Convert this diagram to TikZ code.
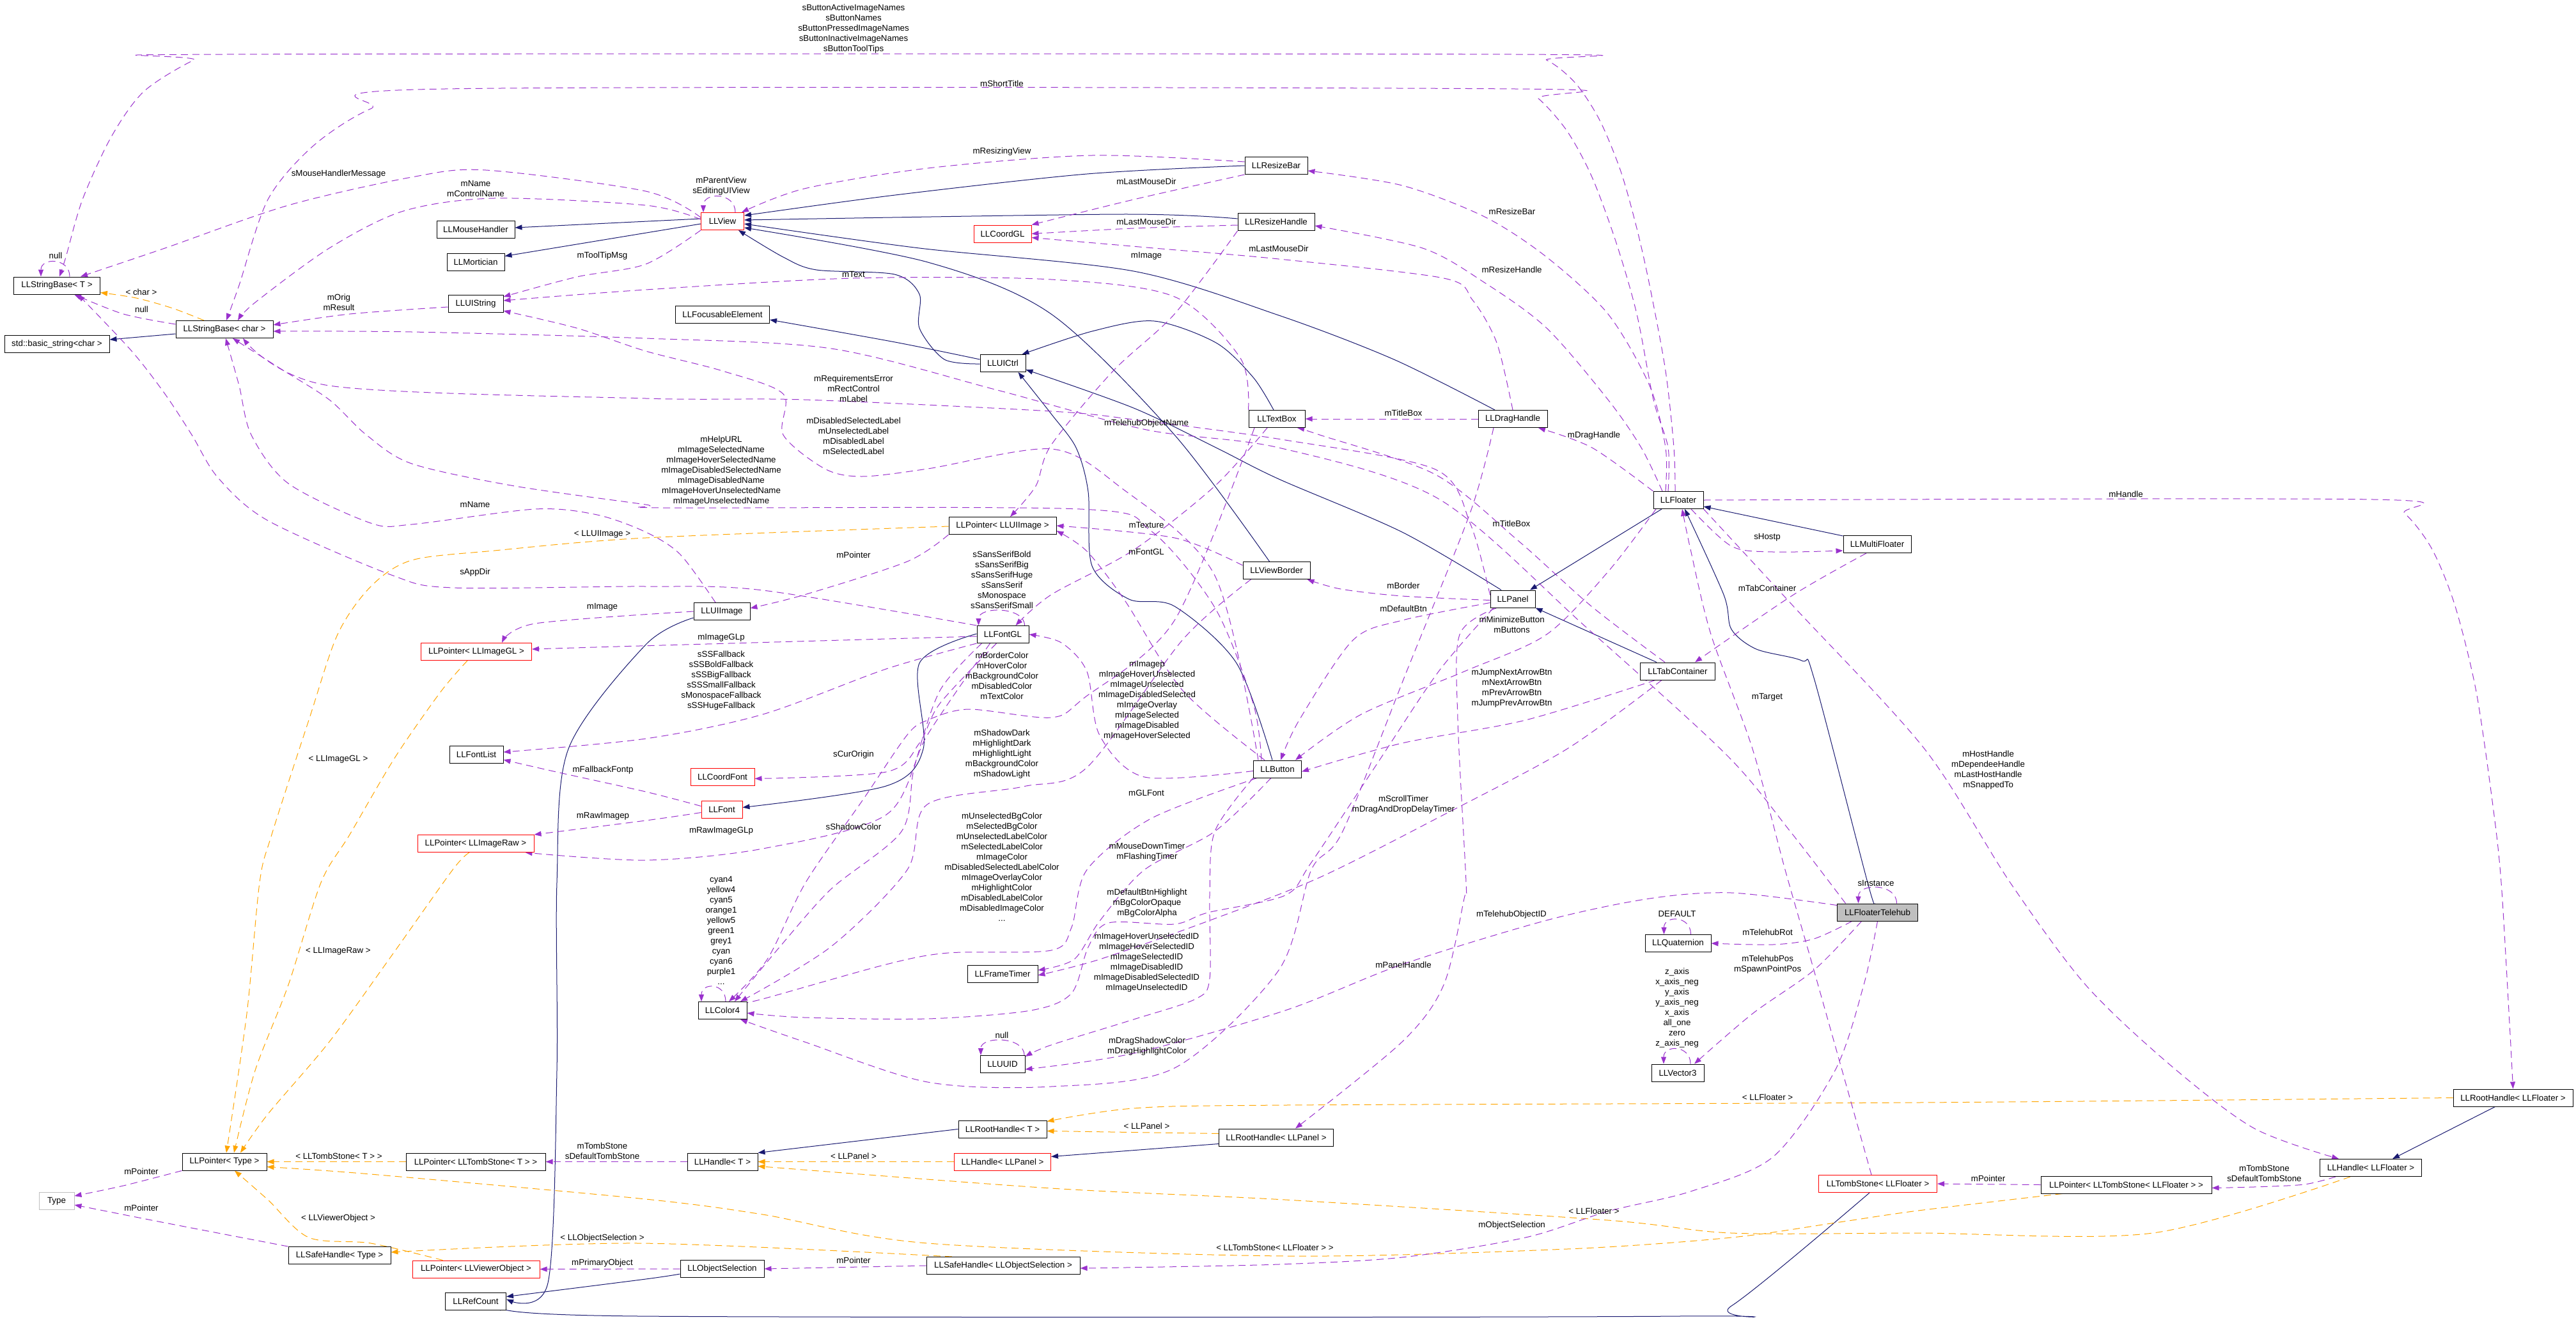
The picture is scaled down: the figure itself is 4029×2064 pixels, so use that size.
\documentclass[tikz,border=0pt]{standalone}
\usepackage{fontspec}
\setmainfont{Liberation Sans}
\usetikzlibrary{arrows.meta, backgrounds}
\definecolor{dxpurple}{RGB}{154,50,205}
\definecolor{dxorange}{RGB}{255,165,0}
\definecolor{dxnavy}{RGB}{25,25,112}
\definecolor{dxgray}{RGB}{191,191,191}

\begin{document}
\begin{tikzpicture}[x=1pt, y=-1pt, font=\fontsize{13.33}{16}\selectfont,
  cls/.style={draw=black, line width=1pt, fill=white, minimum height=27pt, inner sep=0pt},
  clsred/.style={cls, draw=red},
  clsmain/.style={cls, fill=dxgray},
  usage/.style={draw=dxpurple, line width=1pt, dash pattern=on 11pt off 7pt, -{Triangle[length=11pt,width=8pt]}},
  tmpl/.style={usage, draw=dxorange},
  inh/.style={draw=dxnavy, line width=1pt, -{Triangle[length=11pt,width=8pt]}},
  lbl/.style={align=center, inner sep=0pt}]

\useasboundingbox (0,0) rectangle (4029,2064);

% Classes
\node[cls, minimum width=135pt] (sbT) at (89,446.5) {LLStringBase< T >};
\node[cls, minimum width=164pt] (stdstr) at (89,538) {std::basic\_string<char >};
\node[cls, minimum width=152pt] (sbchar) at (351,515) {LLStringBase< char >};
\node[cls, minimum width=122pt] (mouse) at (744,359) {LLMouseHandler};
\node[cls, minimum width=90pt] (mort) at (744,409.5) {LLMortician};
\node[cls, minimum width=86pt] (uistr) at (744,475) {LLUIString};
\node[clsred, minimum width=67pt] (view) at (1130,346) {LLView};
\node[cls, minimum width=98pt] (resbar) at (1996,259) {LLResizeBar};
\node[cls, minimum width=120pt] (reshandle) at (1996,347) {LLResizeHandle};
\node[clsred, minimum width=90pt] (coordgl) at (1568,365.5) {LLCoordGL};
\node[cls, minimum width=147pt] (focus) at (1130,492) {LLFocusableElement};
\node[cls, minimum width=71pt] (uictrl) at (1568.5,568) {LLUICtrl};
\node[cls, minimum width=88pt] (textbox) at (1997,655) {LLTextBox};
\node[cls, minimum width=108pt] (draghandle) at (2366,655) {LLDragHandle};
\node[clsred, minimum width=173pt] (ptrimagegl) at (745,1019) {LLPointer< LLImageGL >};
\node[cls, minimum width=84pt] (fontlist) at (745,1180) {LLFontList};
\node[clsred, minimum width=182pt] (ptrimageraw) at (744,1319) {LLPointer< LLImageRaw >};
\node[cls, minimum width=168pt] (ptruiimage) at (1568,822) {LLPointer< LLUIImage >};
\node[cls, minimum width=88pt] (uiimage) at (1129,956) {LLUIImage};
\node[cls, minimum width=81pt] (fontgl) at (1568.5,992) {LLFontGL};
\node[cls, minimum width=105pt] (viewborder) at (1996.5,892) {LLViewBorder};
\node[clsred, minimum width=100pt] (coordfont) at (1130,1214.5) {LLCoordFont};
\node[clsred, minimum width=64pt] (font) at (1129,1265.5) {LLFont};
\node[cls, minimum width=75pt] (button) at (1998,1202.5) {LLButton};
\node[cls, minimum width=78pt] (floater) at (2625,782) {LLFloater};
\node[cls, minimum width=106pt] (multifloater) at (2936,851) {LLMultiFloater};
\node[cls, minimum width=70pt] (panel) at (2366,936.5) {LLPanel};
\node[cls, minimum width=117pt] (tabcont) at (2624,1049.5) {LLTabContainer};
\node[cls, minimum width=132pt] (ptrtype) at (351,1816.5) {LLPointer< Type >};
\node[cls, minimum width=218pt] (ptrtombT) at (744,1816.5) {LLPointer< LLTombStone< T > >};
\node[cls, draw=dxgray, minimum width=55pt] (type) at (88.5,1878) {Type};
\node[cls, minimum width=160pt] (safetype) at (531,1963) {LLSafeHandle< Type >};
\node[clsred, minimum width=199pt] (ptrviewerobj) at (744.5,1984.5) {LLPointer< LLViewerObject >};
\node[cls, minimum width=95pt] (refcount) at (744,2034.5) {LLRefCount};
\node[cls, minimum width=76pt] (color4) at (1130,1580) {LLColor4};
\node[cls, minimum width=110pt] (frametimer) at (1568,1523) {LLFrameTimer};
\node[cls, minimum width=70pt] (uuid) at (1568,1664) {LLUUID};
\node[cls, minimum width=138pt] (roothandleT) at (1568,1765.5) {LLRootHandle< T >};
\node[cls, minimum width=110pt] (handleT) at (1130,1816.5) {LLHandle< T >};
\node[clsred, minimum width=151pt] (handlepanel) at (1568,1816.5) {LLHandle< LLPanel >};
\node[cls, minimum width=179pt] (roothandlepanel) at (1996,1778.5) {LLRootHandle< LLPanel >};
\node[cls, minimum width=131pt] (objsel) at (1129.5,1984) {LLObjectSelection};
\node[cls, minimum width=240pt] (safeobjsel) at (1569,1979) {LLSafeHandle< LLObjectSelection >};
\node[clsmain, minimum width=126pt] (telehub) at (2936.5,1426.5) {LLFloaterTelehub};
\node[cls, minimum width=103pt] (quat) at (2624.5,1475) {LLQuaternion};
\node[cls, minimum width=82pt] (vec3) at (2624,1677.5) {LLVector3};
\node[clsred, minimum width=185pt] (tombfloater) at (2937,1851) {LLTombStone< LLFloater >};
\node[cls, minimum width=187pt] (roothandlefloater) at (3930.5,1716.5) {LLRootHandle< LLFloater >};
\node[cls, minimum width=159pt] (handlefloater) at (3708,1826) {LLHandle< LLFloater >};
\node[cls, minimum width=267pt] (ptrtombfloater) at (3325.5,1852.5) {LLPointer< LLTombStone< LLFloater > >};

\begin{scope}[on background layer]
% Inheritance
\draw[inh] ([yshift=4]view.west) -- ([yshift=3]mouse.east);
\draw[inh] ([yshift=-4]view.west) -- ([yshift=9]mort.east);
\draw[inh] ([yshift=-7]sbchar.west) -- ([yshift=7]stdstr.east);
\draw[inh] plot[smooth] coordinates {(resbar.west) (1700,272) (1400,305) ([yshift=9]view.east)};
\draw[inh] plot[smooth] coordinates {([yshift=5]reshandle.west) (1755,335) ([yshift=2]view.east)};
\draw[inh] plot[smooth] coordinates {([xshift=-28]draghandle.north) (2180,562) (2000,493) (1773,424) (1438,388) ([yshift=-4]view.east)};
\draw[inh] plot[smooth] coordinates {([xshift=-11]viewborder.north) (1837,680) (1644,491) (1451,410) ([yshift=-10]view.east)};
\draw[inh] plot[smooth] coordinates {([yshift=-1]uictrl.west) (1477,562) (1438,513) (1438,460) (1399,429) (1277,422) (1225,402) ([xshift=25]view.south)};
\draw[inh] plot[smooth] coordinates {([yshift=6]uictrl.west) (1400,535) ([yshift=-8]focus.east)};
\draw[inh] plot[smooth] coordinates {([xshift=-5]textbox.north) (1960,590) (1902,536) (1805,502) (1708,518) ([xshift=30]uictrl.north)};
\draw[inh] plot[smooth] coordinates {([xshift=-8]button.north) (1934,1037) (1837,948) (1766,937) (1708,885) (1702,769) (1683,700) (1644,647) ([xshift=24]uictrl.south)};
\draw[inh] plot[smooth] coordinates {([xshift=-18]panel.north) (2193,832) (2000,749) (1902,700) (1773,638) ([yshift=-10]uictrl.east)};
\draw[inh] ([xshift=-26]floater.south) -- ([xshift=27]panel.north);
\draw[inh] ([xshift=-33]tabcont.north) -- (panel.south east);
\draw[inh] ([yshift=13]multifloater.west) -- ([yshift=-10]floater.east);
\draw[inh] plot[smooth] coordinates {([xshift=-4]telehub.north) (2921,1380) (2837,1060) (2818,1033) (2747,1015) (2708,984) (2696,930) ([xshift=10]floater.south)};
\draw[inh] plot[smooth] coordinates {([yshift=1]fontgl.west) (1438,1037) (1444,1171) (1386,1229) ([yshift=3]font.east)};
\draw[inh] plot[smooth] coordinates {([yshift=-10]uiimage.west) (1010,1008) (889,1171) (871,1380) (871,1674) (857,2006) ([yshift=3]refcount.east)};
\draw[inh] plot[smooth] coordinates {([yshift=-8]objsel.west) (1010,2000) ([yshift=7]refcount.east)};
\draw[inh] plot[smooth] coordinates {([xshift=-13]tombfloater.south) (2708,2042) (2625,2058) (1000,2058) ([yshift=-8]refcount.east)};
\draw[inh] (roothandleT.west) -- (handleT.north east);
\draw[inh] ([yshift=-10]roothandlepanel.west) -- ([yshift=8]handlepanel.east);
\draw[inh] ([xshift=-28]roothandlefloater.south) -- ([xshift=34]handlefloater.north);

% Template instances
\draw[tmpl] plot[smooth] coordinates {([xshift=-32]sbchar.north) (270,482) (213,466) ([yshift=-11]sbT.east)};
\draw[tmpl] plot[smooth] coordinates {([yshift=-1]ptruiimage.west) (1010,841) (773,861) (644,876) (580,917) (528,992) (483,1126) (425,1305) (406,1380) (386,1585) ([xshift=3]ptrtype.north)};
\draw[tmpl] plot[smooth] coordinates {([xshift=-14]ptrimagegl.south) (689,1082) (618,1184) (547,1305) (502,1380) (451,1540) (399,1674) ([xshift=15]ptrtype.north)};
\draw[tmpl] plot[smooth] coordinates {([xshift=-10]ptrimageraw.south) (708,1360) (612,1495) (515,1629) (419,1742) ([xshift=25]ptrtype.north)};
\draw[tmpl] (ptrtombT.west) -- (ptrtype.east);
\draw[tmpl] plot[smooth] coordinates {([xshift=-100]ptrtombfloater.south) (3000,1893) (2870,1912) (2708,1935) (2451,1953) (2010,1964) (1451,1944) (1193,1899) (1010,1875) (580,1836) ([yshift=-8]ptrtype.east)};
\draw[tmpl] plot[smooth] coordinates {([xshift=-52]ptrviewerobj.north) (580,1944) (483,1935) (419,1876) ([xshift=16]ptrtype.south)};
\draw[tmpl] plot[smooth] coordinates {([xshift=-80]safeobjsel.north) (1000,1944) ([yshift=5]safetype.east)};
\draw[tmpl] ([yshift=6]roothandlepanel.west) -- ([yshift=-3]roothandleT.east);
\draw[tmpl] plot[smooth] coordinates {(roothandlefloater.west) (3000,1724) (2010,1728) (1773,1733) ([yshift=12]roothandleT.east)};
\draw[tmpl] (handlepanel.west) -- (handleT.east);
\draw[tmpl] plot[smooth] coordinates {([xshift=-32]handlefloater.south) (3367,1928) (3000,1928) (2708,1928) (2515,1908) (2010,1876) (1644,1858) ([yshift=-7]handleT.east)};

% Usage
\draw[usage] plot[smooth] coordinates {([xshift=-5]floater.north) (2618,700) (2605,580) (2580,446) (2560,357) (2535,268) (2502,188) (2464,130) (2419,94) (2367,85) (348,85) (303,94) (225,143) (174,214) (129,312) (103,402) ([xshift=4]sbT.north)};
\draw[usage] plot[smooth] coordinates {([yshift=6]view.west) (1010,299) (760,266) (644,277) (451,321) (258,388) ([xshift=37]sbT.north)};
\draw[usage] ([xshift=20]sbT.north) .. controls +(0,-30) and +(0,-30) .. ([xshift=-25]sbT.north);
\draw[usage] plot[smooth] coordinates {([yshift=8]sbchar.west) (193,491) ([xshift=27]sbT.south)};
\draw[usage] plot[smooth] coordinates {(fontgl.north west) (1193,923) (1010,917) (708,919) (612,899) (419,814) (341,747) (300,680) (258,616) (206,549) ([xshift=33]sbT.south)};
\draw[usage] plot[smooth] coordinates {([xshift=-16]floater.north) (2609,700) (2586,625) (2560,491) (2528,380) (2490,277) (2451,205) (2406,154) (2370,139) (696,139) (580,170) (490,228) (419,312) (374,446) ([xshift=3]sbchar.north)};
\draw[usage] plot[smooth] coordinates {([yshift=3]view.west) (1010,321) (773,310) (631,330) (515,388) (399,473) ([xshift=21]sbchar.north)};
\draw[usage] plot[smooth] coordinates {([yshift=-5]uistr.west) (547,491) ([yshift=7]sbchar.east)};
\draw[usage] plot[smooth] coordinates {([xshift=-50]telehub.north) (2800,1300) (2700,1180) (2480,980) (2250,780) (2000,700) (1793,672) (1560,610) (1300,545) (1010,529) (644,519) ([yshift=-3]sbchar.east)};
\draw[usage] plot[smooth] coordinates {([xshift=-10]uiimage.north) (1064,867) (1010,832) (934,805) (837,796) (644,820) (580,818) (451,756) (393,680) (374,603) ([xshift=2]sbchar.south)};
\draw[usage] plot[smooth] coordinates {([xshift=-25]button.north) (1960,1100) (1900,950) (1800,830) (1689,796) (1038,794) (1010,789) (805,760) (644,725) (573,680) (515,625) (438,576) ([xshift=13]sbchar.south)};
\draw[usage] plot[smooth] coordinates {([yshift=6]panel.west) (2300,820) (2245,734) (2010,688) (1773,656) (1644,643) (1258,625) (1010,623) (515,603) ([xshift=29]sbchar.south)};
\draw[usage] plot[smooth] coordinates {(view.south west) (1010,413) (902,433) ([yshift=11]uistr.east)};
\draw[usage] plot[smooth] coordinates {(textbox.north west) (1940,560) (1837,464) (1644,437) (1335,435) (1010,453) ([yshift=5]uistr.east)};
\draw[usage] plot[smooth] coordinates {([xshift=-30]button.north) (1900,900) (1750,760) (1644,702) (1451,733) (1348,745) (1290,733) (1225,680) (1225,616) (1130,580) (1010,549) (902,513) ([yshift=-11]uistr.east)};
\draw[usage] plot[smooth] coordinates {(resbar.south west) (1773,312) (coordgl.north east)};
\draw[usage] plot[smooth] coordinates {([yshift=-5]reshandle.west) (1773,357) (coordgl.east)};
\draw[usage] plot[smooth] coordinates {(draghandle.north) (2341,536) (2303,469) (2258,435) (2000,405) (1805,388) ([yshift=-6]coordgl.east)};
\draw[usage] plot[smooth] coordinates {([xshift=-20]floater.north) (2605,700) (2580,603) (2515,491) (2419,402) (2322,339) (2193,290) ([yshift=-8]resbar.east)};
\draw[usage] plot[smooth] coordinates {([xshift=-25]floater.north) (2567,700) (2515,625) (2419,513) (2322,442) (2225,388) ([yshift=-6]reshandle.east)};
\draw[usage] ([xshift=20]view.north) .. controls +(0,-32) and +(0,-32) .. ([xshift=-30]view.north);
\draw[usage] plot[smooth] coordinates {([yshift=6]resbar.west) (1708,243) (1451,263) (1258,295) ([xshift=30]view.north)};
\draw[usage] plot[smooth] coordinates {([xshift=-20]button.north) (1850,1080) (1760,940) (1700,862) ([yshift=-8]ptruiimage.east)};
\draw[usage] plot[smooth] coordinates {([yshift=8]viewborder.west) (1837,841) (ptruiimage.east)};
\draw[usage] plot[smooth] coordinates {(reshandle.south west) (1837,491) (1741,580) (1644,696) (1620,760) ([xshift=12]ptruiimage.north)};
\draw[usage] plot[smooth] coordinates {(ptruiimage.south west) (1419,878) (1258,930) ([yshift=5]uiimage.east)};
\draw[usage] plot[smooth] coordinates {(uiimage.west) (837,975) ([xshift=40]ptrimagegl.north)};
\draw[usage] plot[smooth] coordinates {([yshift=-3]fontgl.west) (1000,1010) ([yshift=4]ptrimagegl.east)};
\draw[usage] plot[smooth] coordinates {(fontgl.south west) (1386,1046) (1193,1117) (1010,1155) ([yshift=4]fontlist.east)};
\draw[usage] plot[smooth] coordinates {([yshift=5]font.west) (1010,1238) (870,1207) ([yshift=-8]fontlist.east)};
\draw[usage] plot[smooth] coordinates {([yshift=-5]font.west) (1010,1283) (ptrimageraw.north east)};
\draw[usage] plot[smooth] coordinates {([xshift=-20]fontgl.south) (1450,1150) (1386,1274) (1193,1327) (1010,1345) ([xshift=-14]ptrimageraw.south east)};
\draw[usage] plot[smooth] coordinates {([xshift=-10]fontgl.south) (1470,1100) (1438,1162) (1386,1207) ([yshift=-3]coordfont.east)};
\draw[usage] ([xshift=34]fontgl.north) .. controls +(0,-30) and +(0,-30) .. ([xshift=-38]fontgl.north);
\draw[usage] plot[smooth] coordinates {([xshift=-15]textbox.south) (1900,760) (1773,860) (1644,930) ([xshift=20]fontgl.north)};
\draw[usage] plot[smooth] coordinates {([yshift=-3]button.west) (1790,1215) (1720,1150) (1700,1050) (1660,1005) (fontgl.east)};
\draw[usage] ([xshift=5]color4.north) .. controls +(0,-30) and +(0,-30) .. ([xshift=-33]color4.north);
\draw[usage] plot[smooth] coordinates {([xshift=-35]textbox.south) (1837,970) (1696,1091) (1644,1122) (1515,1109) (1451,1126) (1419,1149) (1350,1250) (1260,1380) (1200,1500) ([xshift=10]color4.north)};
\draw[usage] plot[smooth] coordinates {([xshift=-40]viewborder.south) (1850,1000) (1700,1200) (1600,1230) (1450,1258) (1419,1360) (1300,1480) ([xshift=28]color4.north)};
\draw[usage] plot[smooth] coordinates {([xshift=-33]fontgl.south) (1470,1080) (1430,1200) (1410,1300) (1300,1390) (1220,1480) ([xshift=19]color4.north)};
\draw[usage] plot[smooth] coordinates {([xshift=-32]button.south) (1800,1280) (1700,1360) (1676,1450) (1644,1486) (1483,1490) (1386,1508) (1193,1562) (color4.north east)};
\draw[usage] plot[smooth] coordinates {([xshift=-30]panel.south) (2250,1050) (2150,1200) (2050,1350) (2010,1400) (1889,1427) (1837,1445) (1734,1443) (1702,1481) (1676,1553) (1612,1580) (1451,1593) (1258,1591) ([yshift=-4]color4.east)};
\draw[usage] plot[smooth] coordinates {([xshift=-30]draghandle.south) (2300,800) (2200,1050) (2100,1300) (2051,1360) (2000,1517) (1837,1670) (1644,1699) (1451,1692) (1258,1629) ([xshift=28]color4.south)};
\draw[usage] plot[smooth] coordinates {([xshift=-10]button.south) (1900,1300) (1790,1360) (1720,1440) (1680,1500) ([yshift=6]frametimer.east)};
\draw[usage] plot[smooth] coordinates {([xshift=-25]tabcont.south) (2451,1171) (2258,1274) (2064,1372) (1890,1440) (1720,1500) ([yshift=-2]frametimer.east)};
\draw[usage] ([xshift=34]uuid.north) .. controls +(0,-30) and +(0,-30) .. ([xshift=-34]uuid.north);
\draw[usage] plot[smooth] coordinates {(button.south west) (1900,1300) (1892,1400) (1892,1530) (1870,1562) (1773,1594) (1644,1634) ([yshift=-2]uuid.north east)};
\draw[usage] plot[smooth] coordinates {([yshift=11]telehub.west) (2708,1396) (2580,1405) (2419,1439) (2193,1508) (2010,1580) (1773,1647) ([yshift=-8]uuid.east)};
\draw[usage] plot[smooth] coordinates {([yshift=-6]panel.west) (2193,970) (2116,1001) (2032,1126) ([xshift=5]button.north)};
\draw[usage] plot[smooth] coordinates {([xshift=-35]floater.south) (2515,894) (2419,992) (2290,1050) (2129,1117) ([xshift=28]button.north)};
\draw[usage] plot[smooth] coordinates {([xshift=-35]tabcont.south) (2386,1126) (2193,1162) ([yshift=-4]button.east)};
\draw[usage] (draghandle.west) -- (textbox.east);
\draw[usage] plot[smooth] coordinates {([xshift=-20]tabcont.north) (2489,948) (2374,845) (2245,742) (2064,680) ([xshift=32]textbox.south)};
\draw[usage] plot[smooth] coordinates {([yshift=-2]panel.west) (2193,932) (2097,921) ([xshift=48]viewborder.south)};
\draw[usage] plot[smooth] coordinates {(floater.north west) (2490,700) ([xshift=40]draghandle.south)};
\draw[usage] plot[smooth] coordinates {([xshift=-10]tombfloater.north) (2837,1517) (2792,1360) (2741,1171) (2676,992) (2644,859) ([xshift=6]floater.south)};
\draw[usage] plot[smooth] coordinates {([xshift=20]floater.south) (2708,854) (2773,863) ([yshift=-10]multifloater.west)};
\draw[usage] plot[smooth] coordinates {([xshift=-17]multifloater.south) (2805,930) ([xshift=27]tabcont.north)};
\draw[usage] ([xshift=30]telehub.north) .. controls +(0,-32) and +(0,-32) .. ([xshift=-30]telehub.north);
\draw[usage] ([xshift=20]quat.north) .. controls +(0,-30) and +(0,-30) .. ([xshift=-22]quat.north);
\draw[usage] plot[smooth] coordinates {([xshift=-40]telehub.south) (2837,1468) (2773,1477) (quat.east)};
\draw[usage] ([xshift=20]vec3.north) .. controls +(0,-30) and +(0,-30) .. ([xshift=-22]vec3.north);
\draw[usage] plot[smooth] coordinates {([xshift=-25]telehub.south) (2837,1517) (2741,1585) ([xshift=26]vec3.north)};
\draw[usage] plot[smooth] coordinates {([xshift=-25]panel.south) (2283,992) (2280,1126) (2293,1380) (2290,1405) (2258,1540) (2193,1629) ([xshift=30]roothandlepanel.north)};
\draw[usage] plot[smooth] coordinates {(floater.east) (3712,781) (3761,803) (3804,859) (3840,948) (3873,1082) (3899,1260) (3912,1380) (3925,1600) (roothandlefloater.north)};
\draw[usage] plot[smooth] coordinates {(floater.south east) (2805,948) (3010,1171) (3144,1380) (3262,1540) (3394,1665) (3525,1764) ([xshift=-50]handlefloater.north)};
\draw[usage] plot[smooth] coordinates {([xshift=-55]handlefloater.south) (3604,1852) (3525,1856) ([yshift=-5]ptrtombfloater.east)};
\draw[usage] (ptrtombfloater.west) -- (tombfloater.east);
\draw[usage] (handleT.west) -- (ptrtombT.east);
\draw[usage] plot[smooth] coordinates {(ptrtype.south west) (193,1854) ([yshift=8]type.east)};
\draw[usage] plot[smooth] coordinates {(safetype.north west) (258,1912) ([yshift=-6]type.east)};
\draw[usage] (safeobjsel.west) -- (objsel.east);
\draw[usage] plot[smooth] coordinates {(telehub.south) (2915,1540) (2870,1674) (2773,1809) (2644,1863) (2515,1894) (2386,1935) (2193,1966) (2000,1977) (1760,1982) ([yshift=-4]safeobjsel.east)};
\draw[usage] (objsel.west) -- (ptrviewerobj.east);
\end{scope}

% Connector labels
\node[lbl] (lbButtons) at (1335,44.6) {sButtonActiveImageNames\\sButtonNames\\sButtonPressedImageNames\\sButtonInactiveImageNames\\sButtonToolTips};
\node[lbl] (lbShortTitle) at (1567,131) {mShortTitle};
\node[lbl] (lbResizingView) at (1567,236.6) {mResizingView};
\node[lbl] (lbParentView) at (1128,291.5) {mParentView\\sEditingUIView};
\node[lbl] (lbLastMouseA) at (1793,283.5) {mLastMouseDir};
\node[lbl] (lbLastMouseB) at (1793,346.4) {mLastMouseDir};
\node[lbl] (lbLastMouseC) at (2000,389) {mLastMouseDir};
\node[lbl] (lbImageA) at (1793,400) {mImage};
\node[lbl] (lbText) at (1335,428.6) {mText};
\node[lbl] (lbReqError) at (1335,607.6) {mRequirementsError\\mRectControl\\mLabel};
\node[lbl] (lbBtnLabels) at (1335,682) {mDisabledSelectedLabel\\mUnselectedLabel\\mDisabledLabel\\mSelectedLabel};
\node[lbl] (lbTelehubName) at (1793,662.5) {mTelehubObjectName};
\node[lbl] (lbHelpURL) at (1128,736.5) {mHelpURL\\mImageSelectedName\\mImageHoverSelectedName\\mImageDisabledSelectedName\\mImageDisabledName\\mImageHoverUnselectedName\\mImageUnselectedName};
\node[lbl] (lbNullA) at (87,400) {null};
\node[lbl] (lbChar) at (221,457) {< char >};
\node[lbl] (lbNullB) at (221.5,483.5) {null};
\node[lbl] (lbMouseMsg) at (529.5,272) {sMouseHandlerMessage};
\node[lbl] (lbName) at (744,295) {mName\\mControlName};
\node[lbl] (lbToolTip) at (942,400) {mToolTipMsg};
\node[lbl] (lbOrig) at (530,472.5) {mOrig\\mResult};
\node[lbl] (lbResizeBar) at (2365,331) {mResizeBar};
\node[lbl] (lbResizeHandle) at (2364.6,422) {mResizeHandle};
\node[lbl] (lbTitleBoxA) at (2195,646) {mTitleBox};
\node[lbl] (lbDragHandle) at (2493,681) {mDragHandle};
\node[lbl] (lbNameB) at (743,788.5) {mName};
\node[lbl] (lbUIImage) at (942,835) {< LLUIImage >};
\node[lbl] (lbAppDir) at (743,894.7) {sAppDir};
\node[lbl] (lbImageB) at (942,949) {mImage};
\node[lbl] (lbImageGL) at (529,1187) {< LLImageGL >};
\node[lbl] (lbFallback) at (943,1203.6) {mFallbackFontp};
\node[lbl] (lbRawImage) at (943,1276) {mRawImagep};
\node[lbl] (lbPointerA) at (1335,867.5) {mPointer};
\node[lbl] (lbTexture) at (1793,820.6) {mTexture};
\node[lbl] (lbFontGL) at (1793,862.6) {mFontGL};
\node[lbl] (lbSansSerif) at (1567,906.6) {sSansSerifBold\\sSansSerifBig\\sSansSerifHuge\\sSansSerif\\sMonospace\\sSansSerifSmall};
\node[lbl] (lbImageGLp) at (1128,997) {mImageGLp};
\node[lbl] (lbFallbacks) at (1128,1063.7) {sSSFallback\\sSSBoldFallback\\sSSBigFallback\\sSSSmallFallback\\sMonospaceFallback\\sSSHugeFallback};
\node[lbl] (lbBorderColor) at (1567,1056.6) {mBorderColor\\mHoverColor\\mBackgroundColor\\mDisabledColor\\mTextColor};
\node[lbl] (lbImagep) at (1794,1094.8) {mImagep\\mImageHoverUnselected\\mImageUnselected\\mImageDisabledSelected\\mImageOverlay\\mImageSelected\\mImageDisabled\\mImageHoverSelected};
\node[lbl] (lbShadowDark) at (1567,1178.7) {mShadowDark\\mHighlightDark\\mHighlightLight\\mBackgroundColor\\mShadowLight};
\node[lbl] (lbCurOrigin) at (1335,1180) {sCurOrigin};
\node[lbl] (lbGLFont) at (1793,1239.4) {mGLFont};
\node[lbl] (lbRawImageGLp) at (1128,1298.8) {mRawImageGLp};
\node[lbl] (lbShadowColor) at (1335,1292.5) {sShadowColor};
\node[lbl] (lbBgColors) at (1567,1355.7) {mUnselectedBgColor\\mSelectedBgColor\\mUnselectedLabelColor\\mSelectedLabelColor\\mImageColor\\mDisabledSelectedLabelColor\\mImageOverlayColor\\mHighlightColor\\mDisabledLabelColor\\mDisabledImageColor\\...};
\node[lbl] (lbTimers) at (1794,1331.8) {mMouseDownTimer\\mFlashingTimer};
\node[lbl] (lbColors) at (1128,1455) {cyan4\\yellow4\\cyan5\\orange1\\yellow5\\green1\\grey1\\cyan\\cyan6\\purple1\\...};
\node[lbl] (lbTitleBoxB) at (2364,819) {mTitleBox};
\node[lbl] (lbHostp) at (2764,840.7) {sHostp};
\node[lbl] (lbBorder) at (2195,915.7) {mBorder};
\node[lbl] (lbTabContainer) at (2764,919.7) {mTabContainer};
\node[lbl] (lbDefaultBtn) at (2195,951.4) {mDefaultBtn};
\node[lbl] (lbMinimize) at (2364.6,977) {mMinimizeButton\\mButtons};
\node[lbl] (lbArrowBtns) at (2364.6,1076) {mJumpNextArrowBtn\\mNextArrowBtn\\mPrevArrowBtn\\mJumpPrevArrowBtn};
\node[lbl] (lbTarget) at (2764,1090.7) {mTarget};
\node[lbl] (lbScrollTimer) at (2195,1258.5) {mScrollTimer\\mDragAndDropDelayTimer};
\node[lbl] (lbInstance) at (2934,1381) {sInstance};
\node[lbl] (lbHandle) at (3325,773) {mHandle};
\node[lbl] (lbHostHandle) at (3109.6,1204.5) {mHostHandle\\mDependeeHandle\\mLastHostHandle\\mSnappedTo};
\node[lbl] (lbImageRaw) at (529,1487) {< LLImageRaw >};
\node[lbl] (lbTombT) at (530,1807.6) {< LLTombStone< T > >};
\node[lbl] (lbTombStoneA) at (942,1799.5) {mTombStone\\sDefaultTombStone};
\node[lbl] (lbPointerB) at (221,1831.4) {mPointer};
\node[lbl] (lbPointerC) at (221,1888.4) {mPointer};
\node[lbl] (lbViewerObj) at (529,1904.6) {< LLViewerObject >};
\node[lbl] (lbObjSel) at (942,1935.6) {< LLObjectSelection >};
\node[lbl] (lbPrimary) at (942,1975.5) {mPrimaryObject};
\node[lbl] (lbBgOpaque) at (1794,1411.9) {mDefaultBtnHighlight\\mBgColorOpaque\\mBgColorAlpha};
\node[lbl] (lbImageIDs) at (1793.5,1504.8) {mImageHoverUnselectedID\\mImageHoverSelectedID\\mImageSelectedID\\mImageDisabledID\\mImageDisabledSelectedID\\mImageUnselectedID};
\node[lbl] (lbNullC) at (1567,1618.6) {null};
\node[lbl] (lbDragColors) at (1794,1636) {mDragShadowColor\\mDragHighlightColor};
\node[lbl] (lbPanelA) at (1793.5,1761) {< LLPanel >};
\node[lbl] (lbPanelB) at (1335,1807.6) {< LLPanel >};
\node[lbl] (lbTombFloater) at (1994,1951) {< LLTombStone< LLFloater > >};
\node[lbl] (lbPointerD) at (1335,1970.6) {mPointer};
\node[lbl] (lbTelehubID) at (2364,1430.5) {mTelehubObjectID};
\node[lbl] (lbDefault) at (2623,1428.7) {DEFAULT};
\node[lbl] (lbTelehubRot) at (2764.6,1458) {mTelehubRot};
\node[lbl] (lbPanelHandle) at (2195,1508.6) {mPanelHandle};
\node[lbl] (lbTelehubPos) at (2764.6,1507.7) {mTelehubPos\\mSpawnPointPos};
\node[lbl] (lbAxes) at (2623,1576) {z\_axis\\x\_axis\_neg\\y\_axis\\y\_axis\_neg\\x\_axis\\all\_one\\zero\\z\_axis\_neg};
\node[lbl] (lbFloaterA) at (2764.6,1716) {< LLFloater >};
\node[lbl] (lbFloaterB) at (2493,1894) {< LLFloater >};
\node[lbl] (lbObjectSel) at (2364.6,1916) {mObjectSelection};
\node[lbl] (lbPointerE) at (3109.6,1842.6) {mPointer};
\node[lbl] (lbTombStoneB) at (3541.4,1834.8) {mTombStone\\sDefaultTombStone};

\end{tikzpicture}
\end{document}
